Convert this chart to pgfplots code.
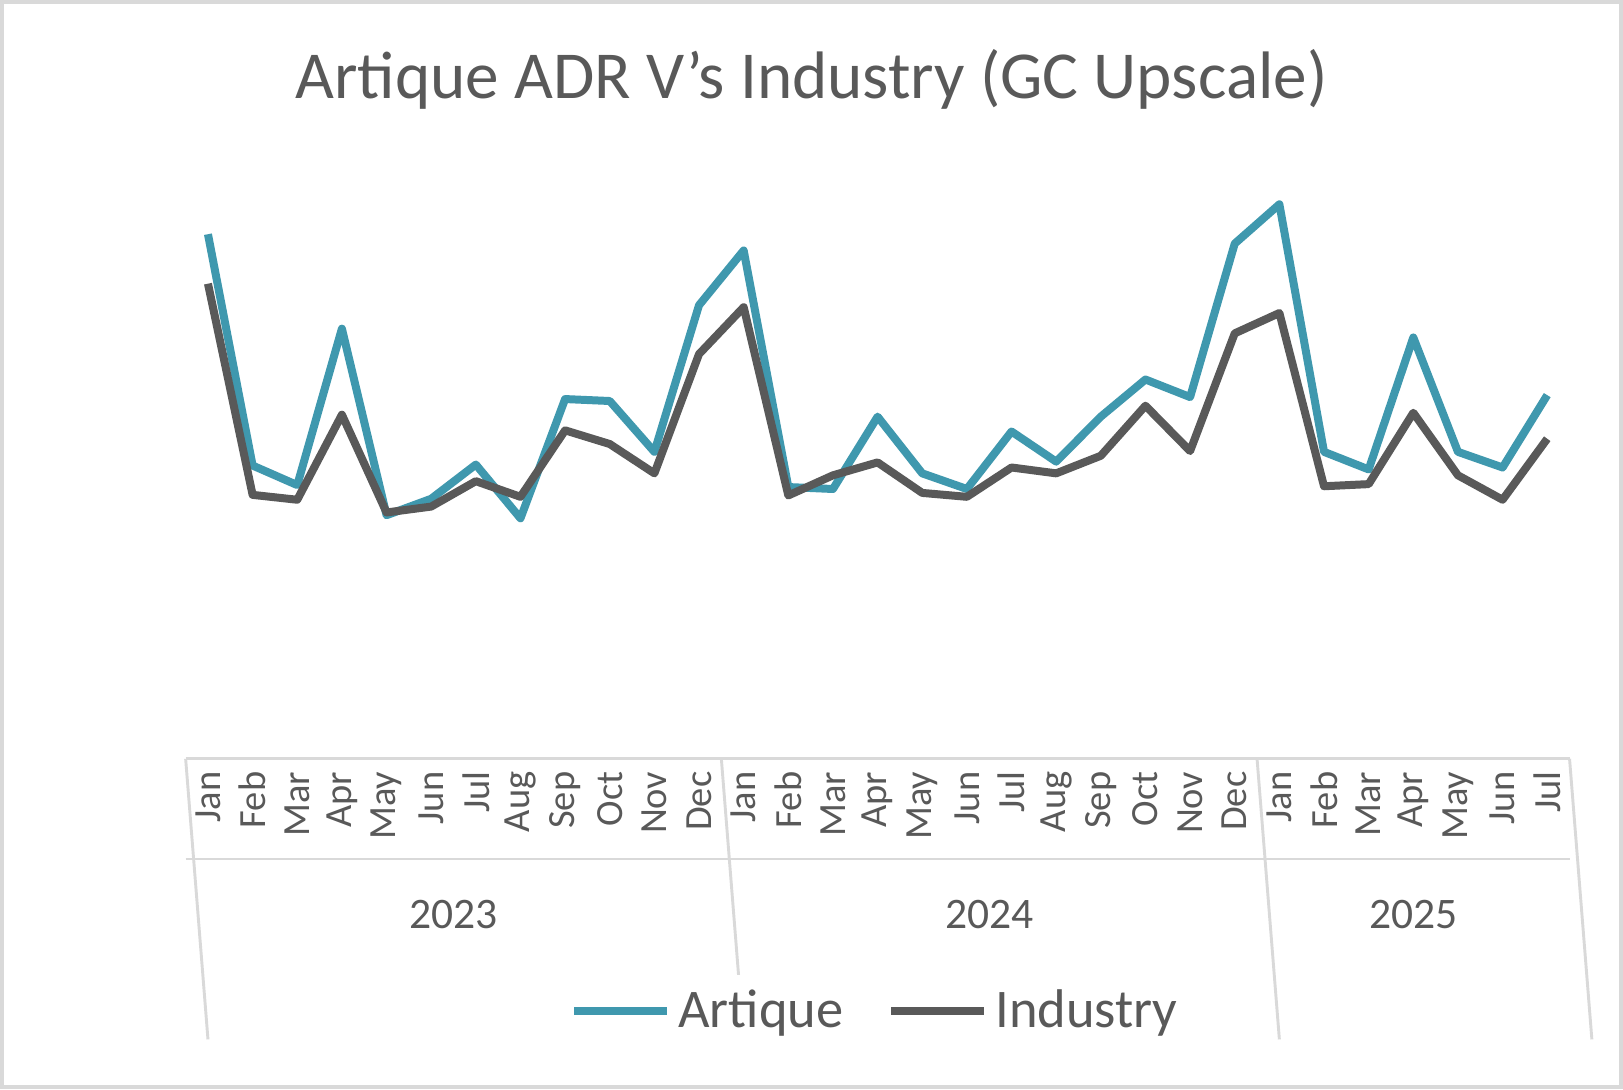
\documentclass[border=0pt]{standalone}
\usepackage{pgfplots}
\pgfplotsset{compat=1.18}
\usepackage{fontspec}
\setmainfont{Carlito}
\definecolor{teal}{HTML}{3F98AE}
\definecolor{dk}{HTML}{595959}
\definecolor{gr}{HTML}{D9D9D9}
\begin{document}
\begin{tikzpicture}
\draw[gr,line width=1pt,fill=white] (0,0) rectangle (15.68,10.51);
\node[text=dk,font=\fontsize{18.5}{22}\selectfont] at (7.84,9.76) {Artique ADR V's Industry (GC Upscale)};
\begin{axis}[at={(1.78cm,3.18cm)},anchor=south west,scale only axis,
 width=13.40cm,height=5.68cm,xmin=-0.5,xmax=30.5,ymin=50,ymax=350,
 ytick={50,100,...,350},yticklabel style={/pgf/number format/.cd,fixed,fixed zerofill,precision=2,assume math mode=true},
 ymajorgrids,grid style={gr,line width=0.8pt},
 axis line style={draw=none},y axis line style={draw=none},
 x axis line style={draw=gr,line width=0.8pt},axis x line*=bottom,axis y line=none,
 ytick style={draw=none},
 xtick={0,...,30},xticklabels={Jan,Feb,Mar,Apr,May,Jun,Jul,Aug,Sep,Oct,Nov,Dec,Jan,Feb,Mar,Apr,May,Jun,Jul,Aug,Sep,Oct,Nov,Dec,Jan,Feb,Mar,Apr,May,Jun,Jul},
 xticklabel style={rotate=90,anchor=east,font=\fontsize{10.6}{12}\selectfont},
 xtick style={draw=none},
 ticklabel style={text=dk,font=\fontsize{10.6}{12}\selectfont},
 clip=false,
 legend style={at={(0.5,-0.43)},anchor=center,draw=none,legend columns=2,font=\fontsize{15}{18}\selectfont,text=dk,/tikz/every even column/.append style={column sep=10pt}},
 legend image code/.code={\draw[#1,line width=2.2pt] (0cm,0cm) -- (0.9cm,0cm);},
]
\addplot[teal,line width=2.2pt,line join=round] coordinates {(0,318.3)(1,200)(2,190)(3,270)(4,174.6)(5,183)(6,200.5)(7,173)(8,234)(9,233)(10,207)(11,282)(12,310)(13,189)(14,188)(15,225)(16,196)(17,188)(18,217.4)(19,202)(20,225)(21,244)(22,235)(23,313.5)(24,333.6)(25,207)(26,198)(27,265.5)(28,207)(29,199)(30,236)};
\addlegendentry{Artique}
\addplot[dk,line width=2.2pt,line join=round] coordinates {(0,293)(1,185)(2,182.5)(3,226)(4,176)(5,179)(6,192)(7,184)(8,218)(9,211)(10,196)(11,257)(12,281)(13,184.7)(14,195)(15,201.6)(16,186)(17,184)(18,199)(19,196)(20,205)(21,230.6)(22,207.4)(23,267.6)(24,278)(25,189.4)(26,190.5)(27,227)(28,195)(29,182.5)(30,213.7)};
\addlegendentry{Industry}
\draw[gr,line width=0.8pt] (axis cs:-0.5,50) -- ++(0,-1.77cm);
\draw[gr,line width=0.8pt] (axis cs:11.5,50) -- ++(0,-1.77cm);
\draw[gr,line width=0.8pt] (axis cs:23.5,50) -- ++(0,-1.77cm);
\draw[gr,line width=0.8pt] (axis cs:30.5,50) -- ++(0,-1.77cm);
\node[text=dk,font=\fontsize{12}{14}\selectfont] at ([yshift=-1.51cm]axis cs:5.5,50) {2023};
\node[text=dk,font=\fontsize{12}{14}\selectfont] at ([yshift=-1.51cm]axis cs:17.5,50) {2024};
\node[text=dk,font=\fontsize{12}{14}\selectfont] at ([yshift=-1.51cm]axis cs:27,50) {2025};
\draw[gr,line width=0.8pt] ([yshift=-0.97cm]axis cs:-0.5,50) -- ([yshift=-0.97cm]axis cs:30.5,50);
\end{axis}
\end{tikzpicture}
\end{document}
